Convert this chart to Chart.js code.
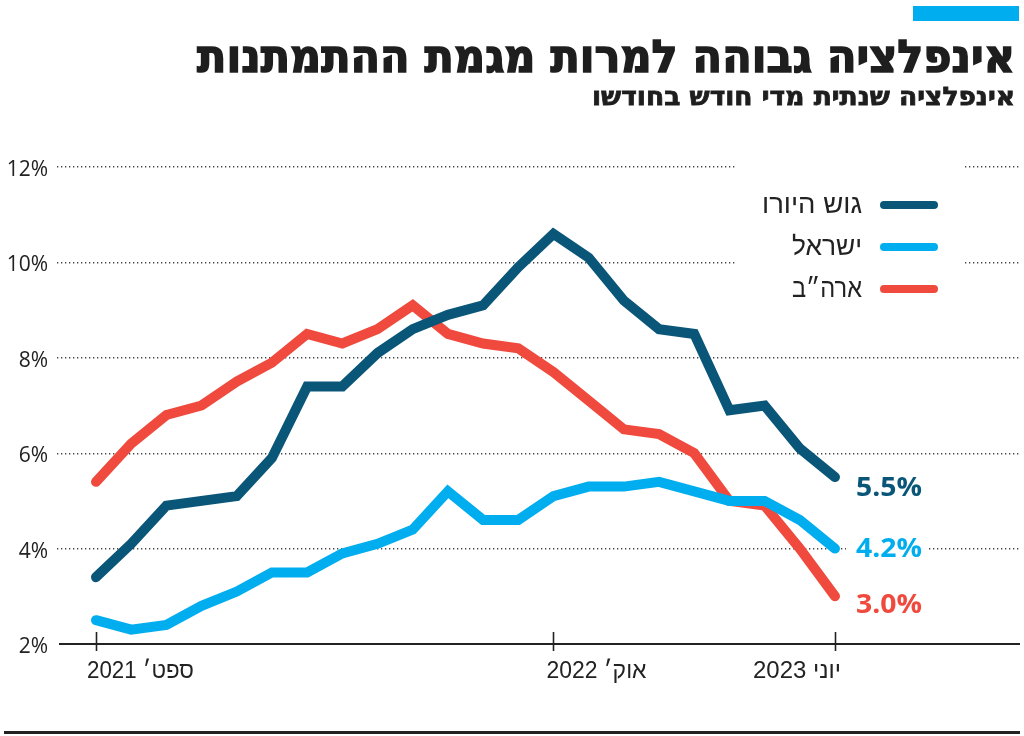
<!DOCTYPE html>
<html lang="he">
<head>
<meta charset="utf-8">
<script src="https://cdn.jsdelivr.net/npm/chart.js@4.4.1/dist/chart.umd.min.js"></script>
<style>
html,body{margin:0;padding:0;background:#fff;overflow:hidden}
#wrap{width:1024px;height:736px;position:relative}
canvas{display:block}
</style>
</head>
<body>
<div id="wrap"><canvas id="c" width="1024" height="736"></canvas></div>
<script>
// ---- data ----
const categories = ['2021-09','2021-10','2021-11','2021-12','2022-01','2022-02','2022-03','2022-04','2022-05','2022-06','2022-07','2022-08','2022-09','2022-10','2022-11','2022-12','2023-01','2023-02','2023-03','2023-04','2023-05','2023-06'];
const eurozone = [3.4,4.1,4.9,5.0,5.1,5.9,7.4,7.4,8.1,8.6,8.9,9.1,9.9,10.6,10.1,9.2,8.6,8.5,6.9,7.0,6.1,5.5];
const israel   = [2.5,2.3,2.4,2.8,3.1,3.5,3.5,3.9,4.1,4.4,5.2,4.6,4.6,5.1,5.3,5.3,5.4,5.2,5.0,5.0,4.6,4.0];
const usa      = [5.4,6.2,6.8,7.0,7.5,7.9,8.5,8.3,8.6,9.1,8.5,8.3,8.2,7.7,7.1,6.5,6.4,6.0,5.0,4.9,4.0,3.0];
const seriesNames = ['גוש היורו','ישראל','ארה״ב'];
const endLabels = ['5.5%','4.2%','3.0%'];
const xTickIndex = [0,13,21];
const xTickLabels = ['ספט׳ 2021','אוק׳ 2022','יוני 2023'];
const yTicks = [2,4,6,8,10,12];
const titleText = 'אינפלציה גבוהה למרות מגמת ההתמתנות';
const subtitleText = 'אינפלציה שנתית מדי חודש בחודשו';

const colors = ['#0a5678','#00adef','#ef4a3d'];
const toPts = arr => arr.map((v,i)=>({x:i,y:v}));

function fitText(ctx, text, x, y, font, width, align, color, stroke){
  ctx.save();
  ctx.font = font;
  ctx.fillStyle = color;
  ctx.textBaseline = 'alphabetic';
  ctx.direction = 'rtl';
  const w = ctx.measureText(text).width;
  const s = width / w;
  ctx.translate(x, y);
  ctx.scale(s, 1);
  ctx.textAlign = align;
  ctx.fillText(text, 0, 0);
  if (stroke){
    ctx.strokeStyle = color;
    ctx.lineWidth = stroke;
    ctx.lineJoin = 'miter';
    ctx.strokeText(text, 0, 0);
  }
  ctx.restore();
}

const decor = {
  id:'decor',
  beforeDatasetsDraw(chart){
    const ctx = chart.ctx, ca = chart.chartArea;
    const xs = chart.scales.x, ys = chart.scales.y;
    ctx.save();
    // legend mask over grid
    ctx.fillStyle = '#fff';
    ctx.fillRect(737, 150, 226, 160);
    // end label mask
    ctx.fillRect(846, ys.getPixelForValue(4)-10, 81, 20);
    // axis line
    const yb = ys.getPixelForValue(2);
    ctx.strokeStyle = '#222';
    ctx.lineWidth = 2;
    ctx.beginPath(); ctx.moveTo(ca.left+2, yb); ctx.lineTo(ca.right, yb); ctx.stroke();
    // tick marks
    ctx.lineWidth = 1.6;
    xTickIndex.forEach(i=>{
      const px = Math.round(xs.getPixelForValue(i)) + 0.5;
      ctx.beginPath(); ctx.moveTo(px, yb-12); ctx.lineTo(px, yb+7); ctx.stroke();
    });
    ctx.restore();
  },
  afterDraw(chart){
    const ctx = chart.ctx;
    const xs = chart.scales.x;
    // top blue bar
    ctx.fillStyle = '#00adef';
    ctx.fillRect(913, 6, 106, 15);
    // title + subtitle
    fitText(ctx, titleText, 1015, 72, 'bold 45px "DejaVu Sans"', 818, 'right', '#1e1e1e', 1.6);
    fitText(ctx, subtitleText, 1015, 105, 'bold 25px "DejaVu Sans"', 423, 'right', '#1e1e1e', 0.8);
    // x tick labels
    const hfont = '24px "Liberation Sans", "DejaVu Sans"';
    const widths = [107, 100, 88];
    xTickIndex.forEach((idx,k)=>{
      const px = xs.getPixelForValue(idx);
      if (k < 2) fitText(ctx, xTickLabels[k], px-9 + (k===1?2:0), 678, hfont, widths[k], 'left', '#222');
      else fitText(ctx, xTickLabels[k], px+6, 678, hfont, widths[k], 'right', '#222');
    });
    // legend
    const ly = [205, 247, 289];
    const lw = [100, 70, 70];
    ctx.save();
    ctx.lineCap = 'round';
    ctx.lineWidth = 8;
    for (let k=0;k<3;k++){
      ctx.strokeStyle = colors[k];
      ctx.beginPath(); ctx.moveTo(884, ly[k]); ctx.lineTo(934, ly[k]); ctx.stroke();
      fitText(ctx, seriesNames[k], 862, ly[k]+8, '26px "Liberation Sans", "DejaVu Sans"', lw[k], 'right', '#222');
    }
    ctx.restore();
    // end labels
    const eb = [496, 557, 613];
    for (let k=0;k<3;k++){
      fitText(ctx, endLabels[k], 856, eb[k], 'bold 26px "Open Sans", "DejaVu Sans"', 66, 'left', colors[k]);
    }
    // bottom rule
    ctx.fillStyle = '#222';
    ctx.fillRect(4, 731, 1016, 3);
  }
};

const pxPerMonth = 35.19;
const xMin = -(96-57)/pxPerMonth;
const xMax = (1020-96)/pxPerMonth;

new Chart(document.getElementById('c'), {
  type:'line',
  data:{
    datasets:[
      {label:seriesNames[0], data:toPts(eurozone), borderColor:colors[0]},
      {label:seriesNames[1], data:toPts(israel), borderColor:colors[1]},
      {label:seriesNames[2], data:toPts(usa), borderColor:colors[2]}
    ]
  },
  options:{
    responsive:false, animation:false, devicePixelRatio:1,
    layout:{padding:{top:167,bottom:92,left:0,right:4}},
    plugins:{legend:{display:false}, tooltip:{enabled:false}},
    elements:{
      point:{radius:0},
      line:{tension:0, borderWidth:10, borderCapStyle:'round', borderJoinStyle:'miter', fill:false}
    },
    scales:{
      x:{type:'linear', display:false, min:xMin, max:xMax},
      y:{
        min:2, max:12,
        afterFit(s){ s.width = 57; },
        afterBuildTicks(s){ s.ticks = yTicks.map(v=>({value:v})); },
        border:{display:false, dash:[1.3,2.7]},
        grid:{drawTicks:false, lineWidth:1.4, color:c=> c.tick && c.tick.value===2 ? 'rgba(0,0,0,0)' : '#444'},
        ticks:{
          padding:9, labelOffset:3, color:'#222',
          font:{family:'"Open Sans", "DejaVu Sans"', size:21},
          callback:v=> v + '%'
        }
      }
    }
  },
  plugins:[decor]
});
</script>
</body>
</html>
